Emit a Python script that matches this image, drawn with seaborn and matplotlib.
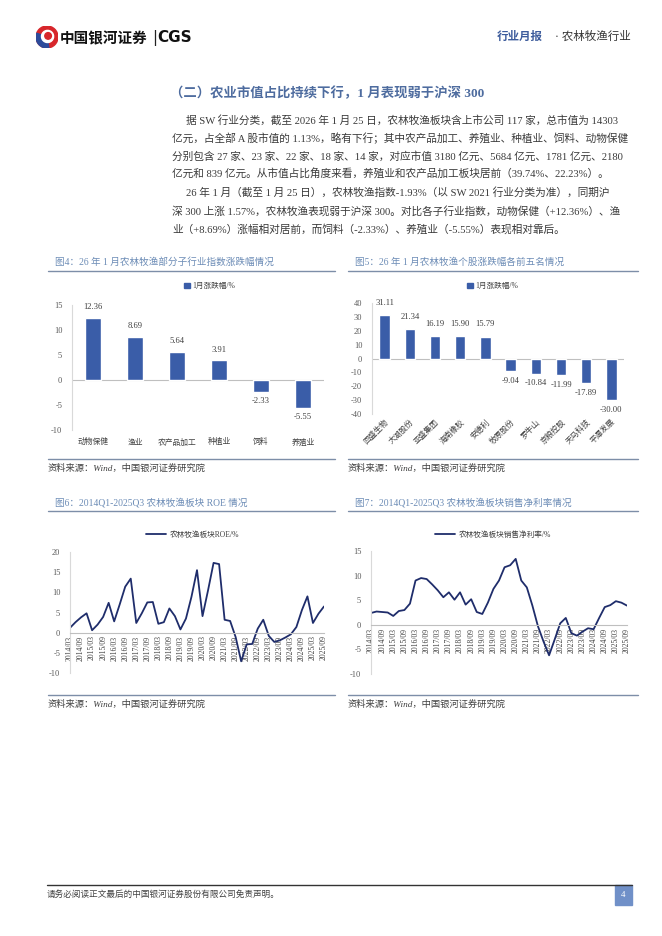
import matplotlib
matplotlib.use("Agg")
import matplotlib.pyplot as plt
from matplotlib.patches import Rectangle, Circle, Wedge
from matplotlib.lines import Line2D
import numpy as np
import pandas as pd
import seaborn as sns

sns.set_theme(style="white")
plt.rcParams['font.family'] = ['Liberation Serif', 'Noto Sans CJK SC', 'DejaVu Sans']
plt.rcParams['axes.unicode_minus'] = False

W, H = 662, 936

# ---- data ----
sub_names = ['动物保健', '渔业', '农产品加工', '种植业', '饲料', '养殖业']
sub_change = [12.36, 8.69, 5.64, 3.91, -2.33, -5.55]

stock_names = ['回盛生物', '大湖股份', '亚盛集团', '海南橡胶', '安德利',
               '牧原股份', '罗牛山', '京粮控股', '天马科技', '平潭发展']
stock_change = [31.11, 21.34, 16.19, 15.90, 15.79, -9.04, -10.84, -11.99, -17.89, -30.00]

quarters = ['2014/03', '2014/06', '2014/09', '2014/12', '2015/03', '2015/06', '2015/09', '2015/12',
            '2016/03', '2016/06', '2016/09', '2016/12', '2017/03', '2017/06', '2017/09', '2017/12',
            '2018/03', '2018/06', '2018/09', '2018/12', '2019/03', '2019/06', '2019/09', '2019/12',
            '2020/03', '2020/06', '2020/09', '2020/12', '2021/03', '2021/06', '2021/09', '2021/12',
            '2022/03', '2022/06', '2022/09', '2022/12', '2023/03', '2023/06', '2023/09', '2023/12',
            '2024/03', '2024/06', '2024/09', '2024/12', '2025/03', '2025/06', '2025/09']

roe = [1.2, 2.6, 3.8, 4.8, 0.6, 2.0, 3.9, 7.4,
       2.8, 7.0, 11.4, 13.4, 2.4, 4.8, 7.5, 7.6,
       2.2, 2.6, 6.0, 4.1, 0.8, 3.5, 8.9, 15.5,
       4.1, 10.5, 17.3, 17.0, 3.2, 2.9, -1.1, -7.1,
       -2.9, -2.8, 1.0, 3.2, -0.8, -2.3, -1.9, -1.2,
       -0.4, 1.4, 5.6, 9.0, 2.4, 4.7, 6.5]

margin = [2.4, 2.7, 2.6, 2.5, 1.8, 2.8, 3.0, 4.3,
          9.0, 9.5, 9.3, 8.2, 7.0, 5.6, 6.6, 5.1,
          6.6, 4.1, 5.2, 2.6, 2.2, 4.5, 7.3, 9.0,
          11.7, 12.1, 13.4, 9.0, 7.6, 3.9, -0.3, -3.4,
          -6.2, -3.0, 0.3, 1.4, -1.7, -2.2, -1.4, -0.7,
          -0.9, 1.4, 3.6, 4.0, 4.8, 4.5, 3.9]

body_lines = [
    (186, '据 SW 行业分类，截至 2026 年 1 月 25 日，农林牧渔板块含上市公司 117 家，总市值为 14303'),
    (172, '亿元，占全部 A 股市值的 1.13%，略有下行；其中农产品加工、养殖业、种植业、饲料、动物保健'),
    (172, '分别包含 27 家、23 家、22 家、18 家、14 家，对应市值 3180 亿元、5684 亿元、1781 亿元、2180'),
    (172, '亿元和 839 亿元。从市值占比角度来看，养殖业和农产品加工板块居前（39.74%、22.23%）。'),
    (186, '26 年 1 月（截至 1 月 25 日），农林牧渔指数-1.93%（以 SW 2021 行业分类为准），同期沪'),
    (172, '深 300 上涨 1.57%，农林牧渔表现弱于沪深 300。对比各子行业指数，动物保健（+12.36%）、渔'),
    (172, '业（+8.69%）涨幅相对居前，而饲料（-2.33%）、养殖业（-5.55%）表现相对靠后。'),
]

BAR = '#3a5da8'
LINE = '#1f2d6b'
TITLE_BLUE = '#6c8cb6'
TICK = '#595959'

fig = plt.figure(figsize=(W / 100, H / 100), dpi=100)
fig.patch.set_facecolor('white')


def px_axes(x0, y0, x1, y1):
    return fig.add_axes([x0 / W, 1 - y1 / H, (x1 - x0) / W, (y1 - y0) / H])


def ptext(x, y, s, **kw):
    kw.setdefault('va', 'center')
    return fig.text(x / W, 1 - y / H, s, **kw)


def hline(x0, x1, y, color, lw):
    fig.add_artist(Line2D([x0 / W, x1 / W], [1 - y / H, 1 - y / H], color=color, lw=lw))


# ---- header ----
logo = px_axes(36, 26, 58, 48)
logo.set_xlim(-1, 1)
logo.set_ylim(-1, 1)
logo.set_aspect('equal')
logo.axis('off')
logo.add_patch(Circle((0, 0), 1, color='#d7262b'))
logo.add_patch(Wedge((0, 0), 1, 160, 280, color='#2c4b9b'))
logo.add_patch(Wedge((0.05, 0.05), 0.55, 0, 360, width=0.25, color='white'))
logo.add_patch(Circle((0.1, 0.1), 0.3, color='#d7262b'))

ptext(60, 38, '中国银河证券', fontsize=10.5, fontweight='bold', color='#111111',
      family=['Noto Sans CJK SC'])
ptext(152, 38, '|', fontsize=11, color='#222222', family=['DejaVu Sans'])
ptext(157, 38, 'CGS', fontsize=11, fontweight='bold', color='#111111', family=['DejaVu Sans'])

ptext(497, 37, '行业月报', fontsize=8.3, fontweight='bold', color='#3d5c9c')
ptext(631, 37, '· 农林牧渔行业', fontsize=8.3, color='#333333', ha='right')

# ---- section title and body ----
ptext(170, 93, '（二）农业市值占比持续下行，1 月表现弱于沪深 300', fontsize=9.6,
      fontweight='bold', color='#4e6c9f')
for i, (x, s) in enumerate(body_lines):
    ptext(x, 120 + i * 18.2, s, fontsize=7.7, color='#3a3a3a')


# ---- helper for chart frames ----
def frame(x0, x1, y_title, y_uline, y_src_line, title):
    ptext(x0 + 7, y_title, title, fontsize=6.9, color=TITLE_BLUE)
    hline(x0, x1, y_uline, '#7d8ea8', 1.0)
    hline(x0, x1, y_src_line, '#7d8ea8', 1.0)
    ptext(x0, y_src_line + 9, '资料来源：Wind，中国银河证券研究院', fontsize=6.7,
          style='italic', color='#404040')


def style_axes(ax, ylim, yticks):
    ax.set_ylim(*ylim)
    ax.set_yticks(yticks)
    ax.set_yticklabels([str(t) for t in yticks])
    for s in ['top', 'right', 'bottom']:
        ax.spines[s].set_visible(False)
    ax.spines['left'].set_color('#d9d9d9')
    ax.spines['left'].set_linewidth(0.8)
    ax.tick_params(axis='y', length=0, labelsize=6, colors=TICK, pad=7)
    ax.tick_params(axis='x', length=0, colors='#404040')
    ax.set_xlabel('')
    ax.set_ylabel('')
    ax.set_facecolor('none')


def bar_legend(ax, label, cx, cy):
    h = Rectangle((0, 0), 1, 1, color=BAR)
    ax.legend([h], [label], loc='center', bbox_to_anchor=(cx / W, 1 - cy / H),
              bbox_transform=fig.transFigure, frameon=False, fontsize=5.5,
              handlelength=0.7, handleheight=0.7, handletextpad=0.4,
              labelcolor='#404040')


def line_legend(ax, label, cx, cy):
    h = Line2D([0], [0], color=LINE, lw=1.3)
    ax.legend([h], [label], loc='center', bbox_to_anchor=(cx / W, 1 - cy / H),
              bbox_transform=fig.transFigure, frameon=False, fontsize=5.5,
              handlelength=2.6, handletextpad=0.5, labelcolor='#404040')


# ---- Fig 4 ----
frame(48, 335, 262, 271, 459, '图4：26 年 1 月农林牧渔部分子行业指数涨跌幅情况')
ax4 = px_axes(72, 305, 324, 430)
df4 = pd.DataFrame({'name': sub_names, 'value': sub_change})
sns.barplot(data=df4, x='name', y='value', order=sub_names, color=BAR, saturation=1,
            width=0.4, ax=ax4)
style_axes(ax4, (-10, 15), [15, 10, 5, 0, -5, -10])
ax4.axhline(0, color='#bfbfbf', lw=0.8, zorder=0)
ax4.set_xlim(-0.5, len(sub_names) - 0.5)
ax4.tick_params(axis='x', labelsize=5.6, pad=6)
for i, v in enumerate(sub_change):
    ax4.annotate(f'{v:.2f}', (i, v), xytext=(0, 5 if v > 0 else -4), textcoords='offset points',
                 ha='center', va='bottom' if v > 0 else 'top', fontsize=6.2, color='#404040')
bar_legend(ax4, '1月涨跌幅/%', 210, 286)

# ---- Fig 5 ----
frame(348, 638, 262, 271, 459, '图5：26 年 1 月农林牧渔个股涨跌幅各前五名情况')
ax5 = px_axes(372, 303, 624, 414)
df5 = pd.DataFrame({'name': stock_names, 'value': stock_change})
sns.barplot(data=df5, x='name', y='value', order=stock_names, color=BAR, saturation=1,
            width=0.42, ax=ax5)
style_axes(ax5, (-40, 40), [40, 30, 20, 10, 0, -10, -20, -30, -40])
ax5.axhline(0, color='#bfbfbf', lw=0.8, zorder=0)
ax5.set_xlim(-0.5, len(stock_names) - 0.5)
ax5.tick_params(axis='x', labelsize=5.6, pad=3)
for lab in ax5.get_xticklabels():
    lab.set_rotation(45)
    lab.set_ha('right')
    lab.set_rotation_mode('anchor')
for i, v in enumerate(stock_change):
    ax5.annotate(f'{v:.2f}', (i, v), xytext=(0, 6 if v > 0 else -4), textcoords='offset points',
                 ha='center', va='bottom' if v > 0 else 'top', fontsize=6.2, color='#404040')
bar_legend(ax5, '1月涨跌幅/%', 493, 286)


# ---- line charts ----
def line_chart(box, values, ylim, yticks, label, legend_xy):
    ax = px_axes(*box)
    df = pd.DataFrame({'q': np.arange(len(quarters)), 'v': values})
    sns.lineplot(data=df, x='q', y='v', color=LINE, lw=1.3, ax=ax)
    style_axes(ax, ylim, yticks)
    ax.set_xlim(0, len(quarters) - 1)
    ax.spines['bottom'].set_visible(True)
    ax.spines['bottom'].set_position(('data', 0))
    ax.spines['bottom'].set_color('#bfbfbf')
    ax.spines['bottom'].set_linewidth(0.8)
    idx = list(range(0, len(quarters), 2))
    ax.set_xticks(idx)
    ax.set_xticklabels([quarters[i] for i in idx], rotation=90, fontsize=5.5, color='#404040')
    ax.tick_params(axis='x', pad=2)
    line_legend(ax, label, *legend_xy)
    return ax


frame(48, 335, 503, 511, 695, '图6：2014Q1-2025Q3 农林牧渔板块 ROE 情况')
line_chart((70, 552, 324, 673), roe, (-10, 20), [20, 15, 10, 5, 0, -5, -10],
           '农林牧渔板块ROE/%', (193, 535))

frame(348, 638, 503, 511, 695, '图7：2014Q1-2025Q3 农林牧渔板块销售净利率情况')
line_chart((371, 551, 627, 674), margin, (-10, 15), [15, 10, 5, 0, -5, -10],
           '农林牧渔板块销售净利率/%', (493, 535))

# ---- footer ----
hline(47, 632, 885, '#333333', 1.0)
ptext(47, 895, '请务必阅读正文最后的中国银河证券股份有限公司免责声明。', fontsize=6.2, color='#404040')
fig.add_artist(Rectangle((615 / W, 1 - 905 / H), 17 / W, 20 / H, color='#7090c8',
                         transform=fig.transFigure))
ptext(623.5, 895, '4', fontsize=6.5, color='white', ha='center')

fig.savefig('out.png', dpi=100, facecolor='white')
